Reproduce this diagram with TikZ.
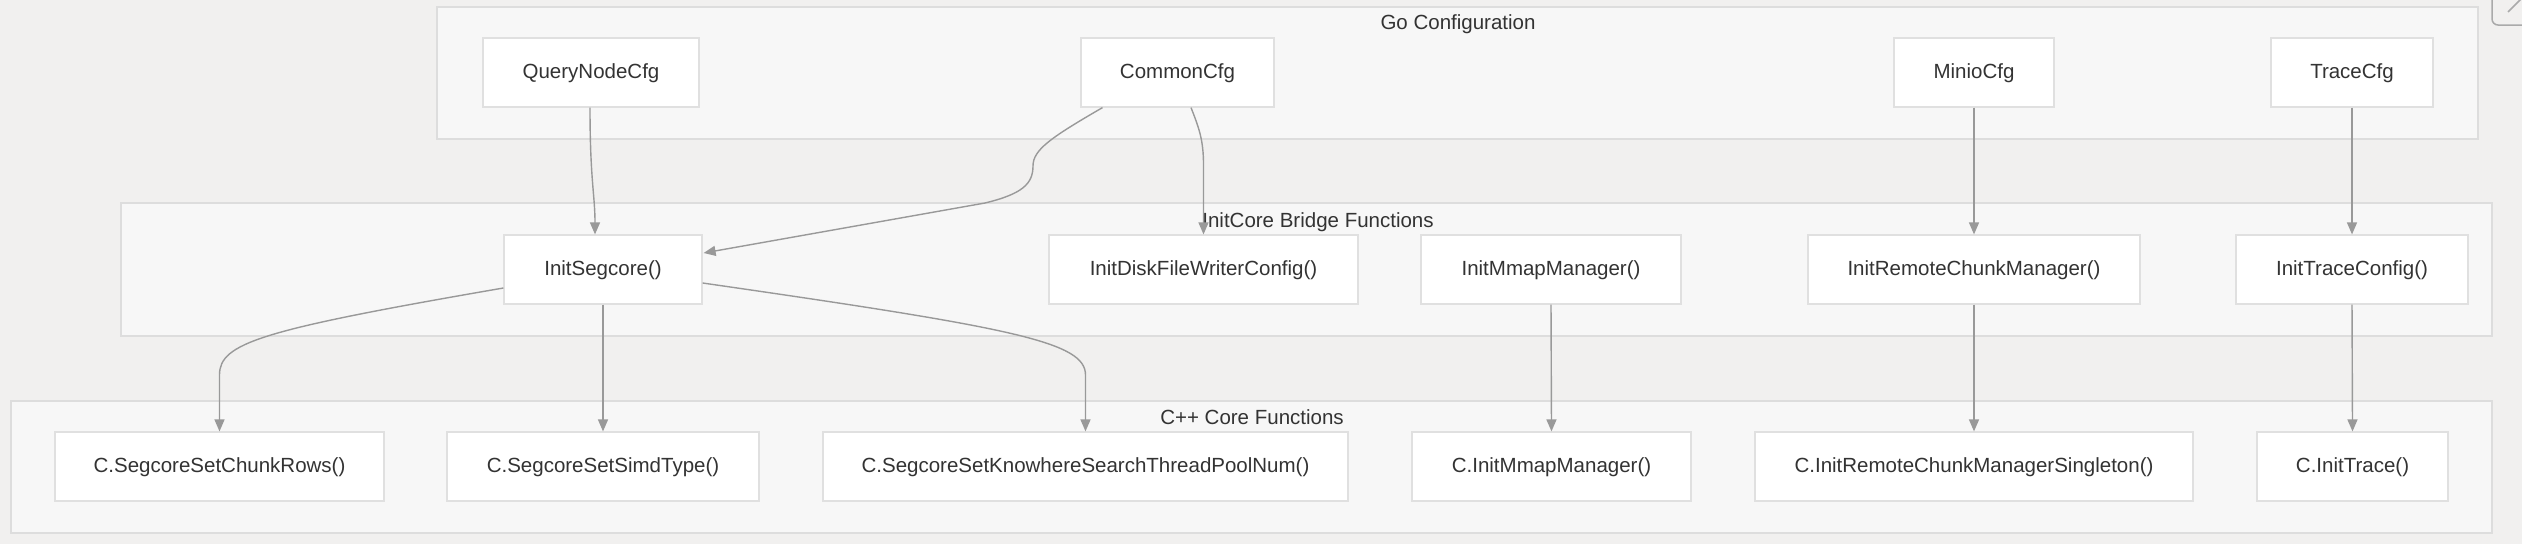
\documentclass[tikz,border=0pt]{standalone}
\usepackage{fontspec}
\setmainfont{Liberation Sans}
\usetikzlibrary{arrows.meta,calc}
\definecolor{bgc}{HTML}{F1F0EF}
\definecolor{clfill}{HTML}{F7F7F7}
\definecolor{clline}{HTML}{DDDDDD}
\definecolor{ndline}{HTML}{E0E0E0}
\definecolor{edgec}{HTML}{999999}
\definecolor{txt}{HTML}{333333}
\definecolor{iconc}{HTML}{AAAAAA}
\tikzset{
  cluster/.style={draw=clline, fill=clfill, line width=1.2pt},
  box/.style={draw=ndline, fill=white, line width=1.2pt, minimum height=69pt, inner sep=0pt,
    text=txt, font=\fontsize{20.5}{24}\selectfont, text depth=3pt},
  cltitle/.style={text=txt, font=\fontsize{20.5}{24}\selectfont, inner sep=0pt},
  conn/.style={draw=edgec, line width=1.4pt, -{Triangle[length=12pt,width=10pt]}},
}
\begin{document}
\begin{tikzpicture}[x=1pt,y=-1pt]
\useasboundingbox (0,0) rectangle (2522,544);
\fill[bgc] (0,0) rectangle (2522,544);
% clusters
\draw[cluster] (437,7) rectangle (2478,139);
\draw[cluster] (121,203) rectangle (2492,336);
\draw[cluster] (11,401) rectangle (2492,533);
\node[cltitle] (tgo) at (1458,24.5) {Go Configuration};
\node[cltitle] (tinit) at (1318,222.5) {InitCore Bridge Functions};
\node[cltitle] (tcpp) at (1252,417.5) {C++ Core Functions};
% icon (partly cut off)
\begin{scope}
\clip (0,0) rectangle (2522,544);
\draw[iconc, line width=1.5pt, rounded corners=6pt] (2492,-12) rectangle (2545,25);
\draw[iconc, line width=1.5pt] (2508,12) -- (2524,-4);
\end{scope}
% top row
\node[box, minimum width=216pt] (qn) at (591,72.5) {QueryNodeCfg};
\node[box, minimum width=193pt] (cc) at (1177.5,72.5) {CommonCfg};
\node[box, minimum width=160pt] (mc) at (1974,72.5) {MinioCfg};
\node[box, minimum width=162pt] (tc) at (2352,72.5) {TraceCfg};
% middle row
\node[box, minimum width=198pt] (seg) at (603,269.5) {InitSegcore()};
\node[box, minimum width=309pt] (disk) at (1203.5,269.5) {InitDiskFileWriterConfig()};
\node[box, minimum width=260pt] (mmap) at (1551,269.5) {InitMmapManager()};
\node[box, minimum width=332pt] (rcm) at (1974,269.5) {InitRemoteChunkManager()};
\node[box, minimum width=232pt] (itc) at (2352,269.5) {InitTraceConfig()};
% bottom row
\node[box, minimum width=329pt] (chunk) at (219.5,466.5) {C.SegcoreSetChunkRows()};
\node[box, minimum width=312pt] (simd) at (603,466.5) {C.SegcoreSetSimdType()};
\node[box, minimum width=525pt] (kw) at (1085.5,466.5) {C.SegcoreSetKnowhereSearchThreadPoolNum()};
\node[box, minimum width=279pt] (cmmap) at (1551.5,466.5) {C.InitMmapManager()};
\node[box, minimum width=438pt] (crcm) at (1974,466.5) {C.InitRemoteChunkManagerSingleton()};
\node[box, minimum width=191pt] (ctr) at (2352.5,466.5) {C.InitTrace()};
% connectors
\draw[conn] ($(qn.south)+(-1,0)$) .. controls (590,180) and (595,195) .. ($(seg.north)+(-8,0)$);
\draw[conn] ($(cc.south)+(-75,0)$) .. controls (1050,138) and (1033,150) .. (1033,166)
  .. controls (1033,184) and (1022,194) .. (985,203) -- ($(seg.east)+(1,-16.5)$);
\draw[conn] ($(cc.south)+(13.5,0)$) .. controls (1199,128) and (1203.5,140) .. (1203.5,165) -- (disk.north);
\draw[conn] ($(seg.west)+(0,18.5)$) .. controls (260,330) and (219.5,343) .. (219.5,375) -- (chunk.north);
\draw[conn] (seg.south) -- (simd.north);
\draw[conn] ($(seg.east)+(0,13.5)$) .. controls (1015,328) and (1085.5,342) .. (1085.5,375) -- (kw.north);
\draw[conn] (mmap.south) -- (cmmap.north);
\draw[conn] (mc.south) -- (rcm.north);
\draw[conn] (rcm.south) -- (crcm.north);
\draw[conn] (tc.south) -- (itc.north);
\draw[conn] (itc.south) -- (ctr.north);
\end{tikzpicture}
\end{document}
